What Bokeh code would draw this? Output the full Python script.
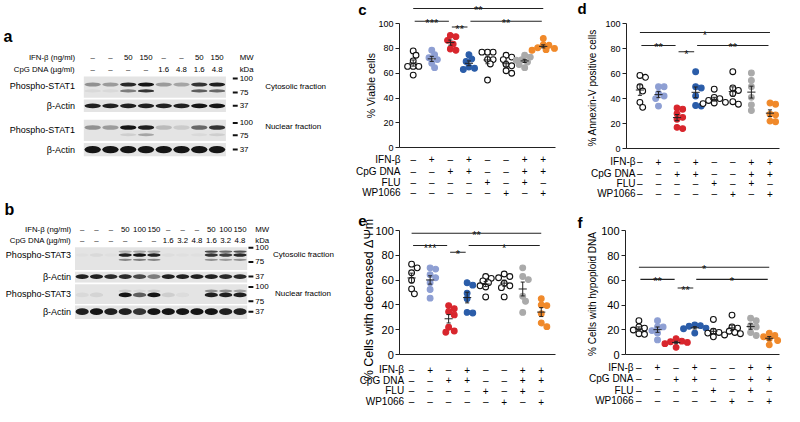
import numpy as np
from bokeh.plotting import figure
from bokeh.models import Range1d, FixedTicker, LinearAxis, ColumnDataSource
from bokeh.layouts import row, column
from bokeh.embed import file_html
from bokeh.resources import INLINE
from bokeh.core.properties import value

FONT = "Liberation Sans"
INK = "#000000"

# ---------------- treatment table (panels c-f) ----------------
ROW_NAMES = ["IFN-β", "CpG DNA", "FLU", "WP1066"]
IFN = ["–", "+", "–", "+", "–", "–", "+", "+"]
CPG = ["–", "–", "+", "+", "–", "–", "+", "+"]
FLU = ["–", "–", "–", "–", "+", "–", "+", "–"]
WP = ["–", "–", "–", "–", "–", "+", "–", "+"]

GROUP_FILL = ["#ffffff", "#8e9fd3", "#d8262d", "#2b5da9", "#ffffff", "#ffffff", "#aaaaaa", "#f0892a"]
GROUP_LINE = ["#111111", "#8e9fd3", "#d8262d", "#2b5da9", "#111111", "#111111", "#aaaaaa", "#f0892a"]

VIABLE = [
    [78, 74.5, 70, 65.5, 65.5, 65.5, 58.5],
    [78.5, 75, 72.5, 71, 68, 64.5],
    [90.5, 89.5, 86.5, 83.5, 79.5, 78.5],
    [75, 71.5, 69.5, 65, 64, 63],
    [77, 77, 77, 71, 71, 67.5, 54.5],
    [74.5, 73, 71, 67, 66, 62, 60],
    [74.5, 73, 71, 70.5, 69, 67, 64.5],
    [88, 83, 82.5, 80.5, 80, 79, 78.5],
]
ANNEXIN = [
    [58.5, 57, 49.5, 46, 37, 33],
    [49.5, 49.5, 44, 42, 40, 34],
    [32.5, 31.5, 28, 25, 23.5, 16, 17],
    [61.5, 49.5, 48.5, 42, 34.5, 34],
    [47.5, 41, 40, 38.5, 37, 36.5, 36],
    [61.5, 48.5, 46.5, 44, 37.5, 35.5],
    [60.5, 54.5, 49.5, 41, 35, 30.5],
    [36.5, 35.5, 27.5, 27, 22, 21.5],
]
DPSI = [
    [73, 70, 66, 60, 53, 49],
    [70, 69, 64.5, 62, 58, 52.5, 45.5],
    [39.5, 37, 34.5, 32, 22, 19, 18],
    [58, 56, 49.5, 45, 34, 33.5],
    [63, 61.5, 59.5, 58, 55.5, 54.5, 46.5],
    [65, 63, 62, 57.5, 55.5, 54, 46.5],
    [70, 63, 60.5, 47, 43, 34],
    [45, 40, 39.5, 33, 25.5, 22.5],
]
HYPO = [
    [27.5, 22.5, 21.5, 20, 17, 16.5],
    [27.5, 22.5, 22.5, 19.5, 17.5, 12],
    [13, 11, 10.5, 10, 9, 6],
    [24, 23.5, 23, 21.5, 21, 17.5],
    [28.5, 19, 18, 17.5, 16, 14.5],
    [32, 22.5, 21.5, 19, 18, 17],
    [29.5, 27.5, 23.5, 22.5, 18, 15.5],
    [17.5, 15.5, 14.5, 13, 11.5, 8],
]
SIG_C = [(1, 8, 112.2, "**"), (1, 3, 101.9, "***"), (3, 4, 97.2, "**"), (4, 8, 101.9, "**")]
SIG_D = [(1, 8, 92.8, "*"), (1, 3, 82.5, "**"), (3, 4, 77.4, "*"), (4, 8, 82.5, "**")]
SIG_E = [(1, 8, 97.9, "**"), (1, 3, 88.0, "***"), (3, 4, 82.6, "*"), (4, 8, 88.0, "*")]
SIG_F = [(1, 8, 70.5, "*"), (1, 3, 60.8, "**"), (3, 4, 53.8, "**"), (4, 8, 60.8, "*")]

# ---------------- western blots (band intensities per lane) ----------------
A_IFN = ["–", "–", "50", "150", "–", "–", "50", "150"]
A_CPG = ["–", "–", "–", "–", "1.6", "4.8", "1.6", "4.8"]
A_STAT1_CYTO_UP = [0.4, 0.35, 0.9, 1.0, 0.35, 0.3, 0.85, 0.95]
A_STAT1_CYTO_LO = [0.05, 0.05, 0.5, 0.85, 0.0, 0.0, 0.65, 0.6]
A_ACTIN_CYTO = [0.95, 0.95, 0.95, 0.95, 0.95, 0.95, 1.0, 1.0]
A_STAT1_NUC_UP = [0.4, 0.35, 1.0, 0.95, 0.2, 0.12, 0.6, 0.85]
A_STAT1_NUC_LO = [0.0, 0.0, 0.1, 0.3, 0.0, 0.0, 0.05, 0.1]
A_ACTIN_NUC = [1.0, 1.0, 1.0, 1.0, 1.0, 1.0, 1.0, 1.0]

B_IFN = ["–", "–", "–", "50", "100", "150", "–", "–", "–", "50", "100", "150"]
B_CPG = ["–", "–", "–", "–", "–", "–", "1.6", "3.2", "4.8", "1.6", "3.2", "4.8"]
B_STAT3_CYTO_UP = [0, 0, 0, 0.25, 0.3, 0.3, 0, 0, 0, 0.75, 0.6, 0.7]
B_STAT3_CYTO_MID = [0.02, 0.05, 0.02, 0.95, 1.0, 0.95, 0.03, 0.02, 0.02, 0.85, 0.8, 0.9]
B_STAT3_CYTO_LO = [0, 0, 0, 0.45, 0.5, 0.45, 0, 0, 0, 0.4, 0.35, 0.4]
B_ACTIN_CYTO = [0.95, 0.95, 0.9, 0.9, 0.75, 0.5, 0.95, 0.95, 0.95, 0.95, 0.9, 0.9]
B_STAT3_NUC_UP = [0, 0, 0, 0.1, 0.05, 0.1, 0, 0, 0, 0.4, 0.4, 0.3]
B_STAT3_NUC_MID = [0.05, 0.08, 0, 1.0, 0.65, 1.0, 0.1, 0.04, 0, 0.95, 0.95, 0.95]
B_ACTIN_NUC = [0.95, 1.0, 0.95, 0.95, 0.85, 1.0, 1.0, 1.0, 1.0, 1.0, 0.95, 0.95]


def txt(p, x, y, t, size, align="left", bold=False, baseline="middle", yoff=0, angle=0.0):
    n = len(t)
    src = ColumnDataSource(dict(x=list(x), y=list(y), t=list(t), c=[INK] * n))
    p.text(x="x", y="y", text="t", source=src, text_font=value(FONT), text_font_size=f"{size}px",
           text_align=align, text_baseline=baseline, text_color="c", text_alpha=1.0,
           text_font_style="bold" if bold else "normal", y_offset=yoff, angle=angle)


# ---------------- blot figure ----------------
bl = figure(width=350, height=406, x_range=Range1d(0, 357.1), y_range=Range1d(422, 0),
            output_backend="svg", toolbar_location=None, min_border=0,
            x_axis_location=None, y_axis_location=None)
bl.grid.visible = False
bl.outline_line_color = None


def draw_blot(p, x0, x1, ifn, cpg, yh, strips, bands, labels, mw, fracs, label_x, mw_x):
    n = len(ifn)
    lw = (x1 - x0) / n
    lanes = [x0 + lw * (i + 0.5) for i in range(n)]
    for (ya, yb) in strips:
        p.quad(left=[x0], right=[x1], top=[ya], bottom=[yb], fill_color="#e4e4e4", line_color=None)
    for (yc, h, inten) in bands:
        p.ellipse(x=lanes, y=[yc] * n, width=lw * 0.92, height=h, fill_color="#151515",
                  fill_alpha=inten, line_color=None)
    for (t, yc) in mw:
        p.segment(x0=[mw_x], x1=[mw_x + 5], y0=[yc], y1=[yc], line_color="#111111", line_width=2)
    txt(p, [label_x, label_x], yh, ["IFN-β (ng/ml)", "CpG DNA (µg/ml)"], 7.8, "right")
    txt(p, lanes + lanes, [yh[0]] * n + [yh[1]] * n, list(ifn) + list(cpg), 7.8, "center")
    txt(p, [mw_x + 7, mw_x + 7], yh, ["MW", "kDa"], 7.8, "left")
    txt(p, [label_x] * len(labels), [yc for _, yc in labels], [t for t, _ in labels], 9, "right")
    txt(p, [mw_x + 7] * len(mw), [yc for _, yc in mw], [t for t, _ in mw], 8, "left")
    txt(p, [xx for _, xx, _ in fracs], [yc for _, _, yc in fracs], [t for t, _, _ in fracs], 8, "left")


draw_blot(bl, 85, 230, A_IFN, A_CPG, [59.3, 71.7],
          [(79, 101), (103, 116), (124, 146), (148, 162)],
          [(87.3, 4.2, A_STAT1_CYTO_UP), (94.0, 3.4, A_STAT1_CYTO_LO), (109.5, 4.8, A_ACTIN_CYTO),
           (132.0, 4.8, A_STAT1_NUC_UP), (139.5, 3.0, A_STAT1_NUC_LO), (155.0, 7.5, A_ACTIN_NUC)],
          [("Phospho-STAT1", 89), ("β-Actin", 109.5), ("Phospho-STAT1", 135), ("β-Actin", 155)],
          [("100", 81), ("75", 95.7), ("37", 109.5), ("100", 127.3), ("75", 140), ("37", 155)],
          [("Cytosolic fraction", 270, 89), ("Nuclear fraction", 270, 131)], 76, 237)

draw_blot(bl, 76, 251.7, B_IFN, B_CPG, [237.7, 249.3],
          [(256.5, 280), (282, 293), (295, 315.5), (317, 331)],
          [(261.0, 2.4, B_STAT3_CYTO_UP), (264.5, 3.6, B_STAT3_CYTO_MID), (269.5, 2.4, B_STAT3_CYTO_LO),
           (287.0, 4.8, B_ACTIN_CYTO), (302.0, 3.0, B_STAT3_NUC_UP), (306.0, 4.8, B_STAT3_NUC_MID),
           (323.5, 7.0, B_ACTIN_NUC)],
          [("Phospho-STAT3", 265), ("β-Actin", 287), ("Phospho-STAT3", 305), ("β-Actin", 323.5)],
          [("100", 257), ("75", 271.7), ("37", 287), ("100", 297.7), ("75", 312.7), ("37", 323.5)],
          [("Cytosolic fraction", 278, 264), ("Nuclear fraction", 280, 305)], 72, 253)

txt(bl, [3, 4], [37, 217], ["a", "b"], 16, "left", bold=True)


# ---------------- scatter panels ----------------
def swarm(vals, ppx, ppy, d):
    order = sorted(range(len(vals)), key=lambda k: -vals[k])
    placed = []
    offs = [0.0] * len(vals)
    cands = [0, 0.5, -0.5, 1, -1, 1.5, -1.5, 2, -2]
    for k in order:
        yp = vals[k] * ppy
        xp = 0.0
        for c in cands:
            xp = c * d
            if all((xp - a) ** 2 + (yp - b) ** 2 >= (0.9 * d) ** 2 for a, b in placed):
                break
        placed.append((xp, yp))
        offs[k] = xp / ppx
    return offs


def panel(data, sig, ylabel, g):
    W, H = g["W"], 203
    ppx, ppy, lx1, py0 = g["ppx"], g["ppy"], g["lx1"], g["py0"]

    def dx(lx):
        return 1 + (lx - lx1) / ppx

    def dy(ly):
        return (py0 - ly) / ppy

    p = figure(width=W, height=H, x_range=Range1d(dx(0), dx(W)), y_range=Range1d(dy(H), dy(0)),
               output_backend="svg", toolbar_location=None, min_border=0,
               x_axis_location=None, y_axis_location=None)
    p.grid.visible = False
    p.outline_line_color = None

    ax = dx(g["lax"])
    ya = LinearAxis(fixed_location=ax, ticker=FixedTicker(ticks=[0, 20, 40, 60, 80, 100]),
                    bounds=(0, 100))
    ya.minor_tick_line_color = None
    ya.major_tick_out = 4
    ya.major_tick_in = 0
    ya.major_label_standoff = 2
    ya.major_label_text_font = FONT
    ya.major_label_text_font_size = f"{g['tick_fs']}px"
    ya.major_label_text_color = INK
    ya.axis_line_color = "#222222"
    ya.major_tick_line_color = "#222222"
    p.add_layout(ya, "left")
    xa = LinearAxis(fixed_location=0, ticker=FixedTicker(ticks=[]), bounds=(ax, dx(g["lxe"])))
    xa.major_tick_out = 0
    xa.minor_tick_out = 0
    xa.major_label_standoff = 0
    xa.axis_line_color = "#222222"
    p.add_layout(xa, "below")

    # treatment table under the axis (drawn before the coloured points)
    tx, ty, tt = [], [], []
    for r, col in enumerate([IFN, CPG, FLU, WP]):
        for gi, s in enumerate(col):
            tx.append(gi + 1); ty.append(dy(py0 + g["rows"][r])); tt.append(s)
    txt(p, tx, ty, tt, 10, "center")
    txt(p, [dx(g["lab_r"])] * 4, [dy(py0 + o) for o in g["rows"]], ROW_NAMES, 10, "right")
    txt(p, [dx(g["ylab_x"])], [g["ylab_v"]], [ylabel], g["ylab_fs"], "center", angle=np.pi / 2)
    txt(p, [dx(g["let"][0])], [dy(g["let"][1])], [g["letter"]], 15, "left", bold=True)

    widest = max(j - i for i, j, _, _ in sig)
    sx0, sx1, sy, smx, slab = [], [], [], [], []
    for i, j, yv, lab in sig:
        t = 0.0 if (j - i) == widest else 0.08
        sx0.append(i + t); sx1.append(j - t); sy.append(yv)
        smx.append((i + j) / 2); slab.append(lab)
    txt(p, smx, sy, slab, 11, "center", baseline="alphabetic", yoff=2)
    p.segment(x0=sx0, x1=sx1, y0=sy, y1=sy, line_color="#222222", line_width=1.1)

    xs, ys, fills, lines = [], [], [], []
    mx0, mx1, my = [], [], []
    ex, ey0, ey1 = [], [], []
    for gi, vals in enumerate(data):
        offs = swarm(vals, ppx, ppy, 5.6)
        for v, o in zip(vals, offs):
            xs.append(gi + 1 + o)
            ys.append(v)
            fills.append(GROUP_FILL[gi])
            lines.append(GROUP_LINE[gi])
        arr = np.array(vals, dtype=float)
        m = arr.mean()
        se = arr.std(ddof=1) / np.sqrt(len(arr))
        mx0.append(gi + 1 - 0.22); mx1.append(gi + 1 + 0.22); my.append(m)
        ex.append(gi + 1); ey0.append(m - se); ey1.append(m + se)
    p.scatter(x=xs, y=ys, size=5.8, fill_color=fills, line_color=lines, line_width=1.1)
    p.segment(x0=mx0, x1=mx1, y0=my, y1=my, line_color="#222222", line_width=1)
    p.segment(x0=ex, x1=ex, y0=ey0, y1=ey1, line_color="#222222", line_width=1)
    cx0 = [x - 0.11 for x in ex]
    cx1 = [x + 0.11 for x in ex]
    p.segment(x0=cx0, x1=cx1, y0=ey0, y1=ey0, line_color="#222222", line_width=1)
    p.segment(x0=cx0, x1=cx1, y0=ey1, y1=ey1, line_color="#222222", line_width=1)
    return p


GC = dict(W=224, lax=49.0, lx1=62.7, lxe=204.8, ppx=18.58, py0=147.2, ppy=1.241, tick_fs=9,
          ylab_fs=10.5, ylab_x=20.6, ylab_v=50, letter="c", let=(7.8, 8.7),
          rows=[11.5, 23.5, 34.6, 45.2], lab_r=50)
GD = dict(W=210, lax=51.9, lx1=65.4, lxe=204.8, ppx=18.58, py0=148.1, ppy=1.2506, tick_fs=9,
          ylab_fs=10, ylab_x=17.6, ylab_v=48.5, letter="d", let=(3, 7.5),
          rows=[13.2, 25.0, 34.6, 45.2], lab_r=61)
GE = dict(W=224, lax=49.3, lx1=61.1, lxe=204.5, ppx=18.52, py0=151.0, ppy=1.238, tick_fs=11,
          ylab_fs=12.5, ylab_x=18.6, ylab_v=44, letter="e", let=(7.8, 17.3),
          rows=[15.0, 25.7, 36.4, 47.0], lab_r=53.6)
GF = dict(W=210, lax=51.0, lx1=64.4, lxe=205.0, ppx=18.62, py0=151.3, ppy=1.241, tick_fs=11,
          ylab_fs=10, ylab_x=17.6, ylab_v=49, letter="f", let=(3, 19.2),
          rows=[12.5, 24.1, 35.3, 45.9], lab_r=59)

pc = panel(VIABLE, SIG_C, "% Viable cells", GC)
pd_ = panel(ANNEXIN, SIG_D, "% Annexin-V positive cells", GD)
pe = panel(DPSI, SIG_E, "% Cells with decreased ΔΨm", GE)
pf = panel(HYPO, SIG_F, "% Cells with hypoploid DNA", GF)

layout = row(bl, column(row(pc, pd_), row(pe, pf)))

open("out.html", "w").write(file_html(layout, INLINE))
